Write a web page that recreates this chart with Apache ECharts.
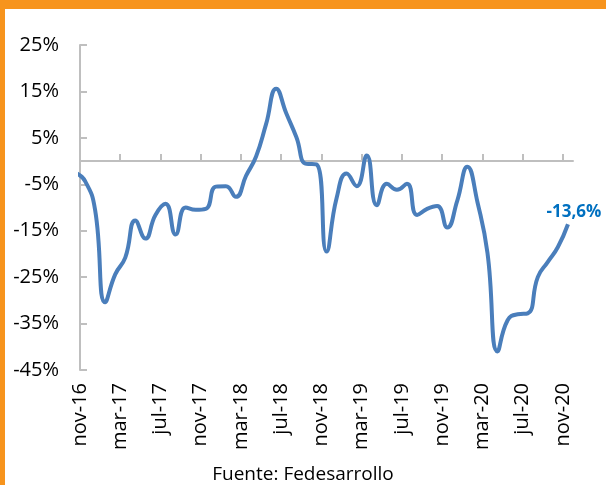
<!DOCTYPE html>
<html>
<head>
<meta charset="utf-8">
<script src="https://cdn.jsdelivr.net/npm/echarts@6/dist/echarts.min.js"></script>
<style>
  html, body { margin: 0; padding: 0; background: #fff; }
  #chart { width: 606px; height: 485px; }
</style>
</head>
<body>
<div id="chart"></div>
<script>
// monthly series, one point per month (oct-16 is only there so the curve enters the axis like the original)
const months = [
  'oct-16', 'nov-16', 'dic-16', 'ene-17', 'feb-17', 'mar-17', 'abr-17', 'may-17', 'jun-17', 'jul-17',
  'ago-17', 'sep-17', 'oct-17', 'nov-17', 'dic-17', 'ene-18', 'feb-18', 'mar-18', 'abr-18', 'may-18',
  'jun-18', 'jul-18', 'ago-18', 'sep-18', 'oct-18', 'nov-18', 'dic-18', 'ene-19', 'feb-19', 'mar-19',
  'abr-19', 'may-19', 'jun-19', 'jul-19', 'ago-19', 'sep-19', 'oct-19', 'nov-19', 'dic-19', 'ene-20',
  'feb-20', 'mar-20', 'abr-20', 'may-20', 'jun-20', 'jul-20', 'ago-20', 'sep-20', 'oct-20', 'nov-20'
]
const growth = [
  -2.5, -4.3, -10.5, -30.4, -24.4, -20.8, -12.8, -16.7, -11.6, -9.2,
  -15.8, -10.0, -10.5, -10.3, -5.5, -5.4, -7.7, -3.2, 1.0, 8.0,
  15.6, 10.3, 5.2, -0.6, -0.7, -19.5, -8.0, -2.7, -5.4, 1.2,
  -9.5, -4.9, -6.2, -4.9, -11.6, -10.3, -9.7, -14.3, -8.5, -1.2,
  -8.8, -19.8, -41.0, -34.3, -33.0, -32.8, -25.0, -21.7, -18.5, -13.6
]
const tickLabels = ['nov-16', 'mar-17', 'jul-17', 'nov-17', 'mar-18', 'jul-18', 'nov-18',
  'mar-19', 'jul-19', 'nov-19', 'mar-20', 'jul-20', 'nov-20']
const yTicks = [-45, -35, -25, -15, -5, 5, 15, 25]

// x = months since start of nov-16, each value sits mid-month
const points = growth.map((v, i) => [i - 0.5, v])
const tickPos = tickLabels.map((_, i) => i * 4)

const FONT = '"Open Sans", "Noto Sans", sans-serif'
const AXIS_GRAY = '#BFBFBF'

const chart = echarts.init(document.getElementById('chart'))
chart.setOption({
  animation: false,
  backgroundColor: '#fff',
  textStyle: { fontFamily: FONT },
  title: {
    text: 'Fuente: Fedesarrollo',
    left: 'center',
    top: 460,
    textStyle: { fontFamily: FONT, fontSize: 19, fontWeight: 'normal', color: '#000' },
  },
  graphic: [
    { type: 'rect', shape: { x: 0, y: 0, width: 606, height: 9 }, style: { fill: '#F7941D' }, z: 100 },
    { type: 'rect', shape: { x: 0, y: 0, width: 5, height: 485 }, style: { fill: '#F7941D' }, z: 100 },
  ],
  grid: { left: 80, right: 33, top: 45, bottom: 115 },
  xAxis: [
    {
      type: 'value',
      min: 0,
      max: 49,
      position: 'bottom',
      axisLine: { show: false, onZero: false },
      axisTick: { show: false },
      splitLine: { show: false },
      axisLabel: {
        rotate: 90,
        margin: 13,
        fontSize: 20,
        color: '#000',
        fontFamily: FONT,
        customValues: tickPos,
        formatter: (v) => tickLabels[Math.round(v / 4)] ?? '',
      },
    },
    {
      type: 'value',
      min: 0,
      max: 49,
      position: 'top',
      axisLine: { show: true, onZero: true, lineStyle: { color: AXIS_GRAY, width: 2 } },
      axisTick: { show: true, inside: false, length: 7, customValues: tickPos, lineStyle: { color: AXIS_GRAY, width: 2 } },
      axisLabel: { show: false },
      splitLine: { show: false },
    },
  ],
  yAxis: {
    type: 'value',
    min: -45,
    max: 25,
    axisLine: { show: true, onZero: false, lineStyle: { color: AXIS_GRAY, width: 2 } },
    axisTick: { show: true, inside: true, length: 7, customValues: yTicks, lineStyle: { color: AXIS_GRAY, width: 2 } },
    axisLabel: {
      margin: 21,
      fontSize: 20,
      color: '#000',
      fontFamily: FONT,
      customValues: yTicks,
      formatter: (v) => `${v}%`,
    },
    splitLine: { show: false },
  },
  series: [
    {
      type: 'line',
      xAxisIndex: 0,
      yAxisIndex: 0,
      data: points,
      smooth: 0.5,
      symbol: 'none',
      clip: true,
      lineStyle: { color: '#4A7EBB', width: 4 },
      endLabel: {
        show: true,
        formatter: (p) => `${p.value[1].toFixed(1).replace('.', ',')}%`,
        color: '#0070C0',
        fontFamily: FONT,
        fontSize: 17,
        fontWeight: 'bold',
        align: 'center',
        verticalAlign: 'bottom',
        distance: 0,
        offset: [6, -4],
      },
    },
  ],
})
</script>
</body>
</html>
